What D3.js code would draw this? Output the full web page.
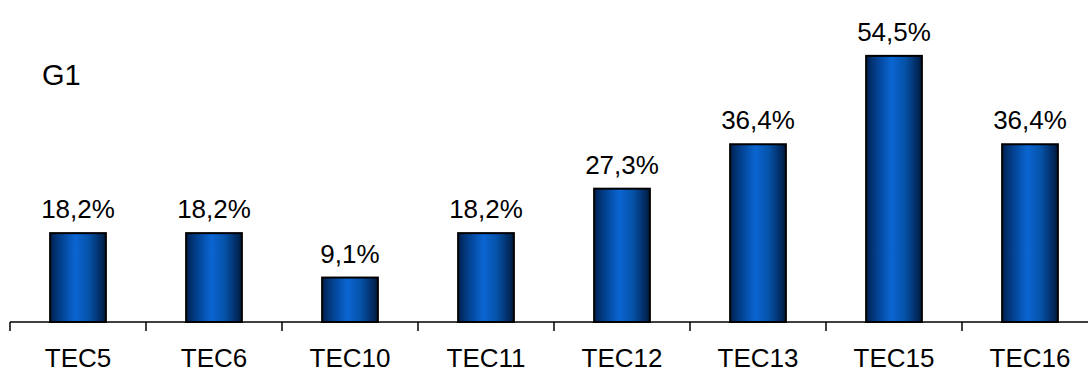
<!DOCTYPE html>
<html>
<head>
<meta charset="utf-8">
<script src="https://cdn.jsdelivr.net/npm/d3@7"></script>
<style>
  html, body { margin: 0; padding: 0; background: #fff; }
  svg { display: block; }
  text { font-family: "Liberation Sans", Arial, sans-serif; fill: #000; }
</style>
</head>
<body>
<svg id="chart" width="1088" height="372"></svg>
<script>
// Share of each TEC group (percent)
const categories = ["TEC5", "TEC6", "TEC10", "TEC11", "TEC12", "TEC13", "TEC15", "TEC16"];
const values = [18.2, 18.2, 9.1, 18.2, 27.3, 36.4, 54.5, 36.4];
const seriesName = "G1";

const svg = d3.select("#chart");
const W = 1088;

const x = d3.scaleBand()
  .domain(categories)
  .range([10, 1098])
  .paddingInner(0.59)
  .paddingOuter(0.295);

const y = d3.scaleLinear().domain([0, 60]).range([322, 29]);

// Horizontal shading across each bar
const defs = svg.append("defs");
const grad = defs.append("linearGradient")
  .attr("id", "barShade")
  .attr("x1", "0%").attr("x2", "100%").attr("y1", "0%").attr("y2", "0%");
[
  [0, "#00214f"],
  [0.18, "#033f8c"],
  [0.45, "#0a66d2"],
  [0.7, "#0552a8"],
  [1, "#001a40"]
].forEach(([o, c]) => grad.append("stop").attr("offset", o).attr("stop-color", c));

const fmt = v => d3.format(".1f")(v).replace(".", ",") + "%";

// Bars
svg.append("g").selectAll("rect")
  .data(values)
  .join("rect")
  .attr("x", (d, i) => x(categories[i]))
  .attr("y", d => y(d))
  .attr("width", x.bandwidth())
  .attr("height", d => y(0) - y(d))
  .attr("fill", "url(#barShade)")
  .attr("stroke", "#000")
  .attr("stroke-width", 2);

// Value labels
svg.append("g").selectAll("text")
  .data(values)
  .join("text")
  .attr("x", (d, i) => x(categories[i]) + x.bandwidth() / 2)
  .attr("y", d => y(d) - 15)
  .attr("text-anchor", "middle")
  .style("font-size", "26px")
  .text(d => fmt(d));

// Category axis with ticks on band boundaries
const axisG = svg.append("g").attr("transform", `translate(0,${y(0)})`);
axisG.append("line")
  .attr("x1", 10).attr("x2", W)
  .attr("stroke", "#000").attr("stroke-width", 1.5);
const tickXs = d3.range(categories.length).map(i => 10 + i * x.step());
axisG.selectAll("line.tick")
  .data(tickXs)
  .join("line")
  .attr("class", "tick")
  .attr("x1", d => d).attr("x2", d => d)
  .attr("y1", 0).attr("y2", 9)
  .attr("stroke", "#000").attr("stroke-width", 1.5);
axisG.selectAll("text")
  .data(categories)
  .join("text")
  .attr("x", d => x(d) + x.bandwidth() / 2)
  .attr("y", 45)
  .attr("text-anchor", "middle")
  .style("font-size", "26px")
  .text(d => d);

// Series label
svg.append("text")
  .attr("x", 42)
  .attr("y", 85)
  .style("font-size", "29px")
  .text(seriesName);
</script>
</body>
</html>
